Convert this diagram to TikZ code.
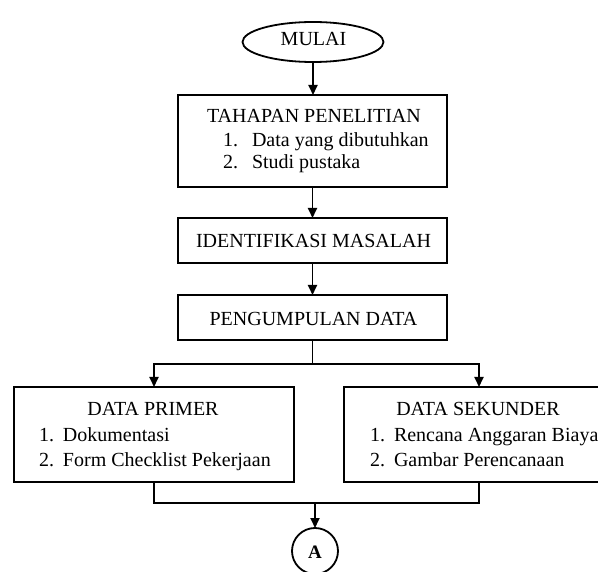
\documentclass[tikz,border=0pt]{standalone}
\usepackage{fontspec}
\setmainfont{Liberation Serif}
\usetikzlibrary{arrows.meta,shapes.geometric}
\begin{document}
\begin{tikzpicture}[x=1pt,y=-1pt,
  line width=1.8pt,
  every node/.style={inner sep=0pt, outer sep=0pt},
  box/.style={draw, rectangle, line width=1.8pt},
  txt/.style={font=\fontsize{20}{24}\selectfont, anchor=base},
  itm/.style={font=\fontsize{20}{24}\selectfont, anchor=base west},
  arr/.style={-{Triangle[length=10pt,width=9pt]}}]
\useasboundingbox (0,0) rectangle (598,572);
% shapes
\node[draw, ellipse, minimum width=141pt, minimum height=40pt] (mulai) at (313,42) {};
\node[box, minimum width=269pt, minimum height=92pt] (tahap) at (312.5,141) {};
\node[box, minimum width=269pt, minimum height=45pt] (ident) at (312.5,240.5) {};
\node[box, minimum width=269pt, minimum height=45pt] (peng) at (312.5,317.5) {};
\node[box, minimum width=280pt, minimum height=95pt] (primer) at (154,434.5) {};
\node[box, minimum width=270pt, minimum height=95pt] (sek) at (479,434.5) {};
\node[draw, circle, minimum size=46pt] (circA) at (315,551) {};
% texts
\node[txt] (tmulai) at (313.5,46) {MULAI};
\node[txt] (ttahap) at (314,123) {TAHAPAN PENELITIAN};
\node[itm] (tt1n) at (223,146.5) {1.};
\node[itm] (tt1) at (252,146.5) {Data yang dibutuhkan};
\node[itm] (tt2n) at (223,169) {2.};
\node[itm] (tt2) at (252,169) {Studi pustaka};
\node[txt] (tident) at (313.5,248) {IDENTIFIKASI MASALAH};
\node[txt] (tpeng) at (313.5,326) {PENGUMPULAN DATA};
\node[txt] (tprimer) at (153,416) {DATA PRIMER};
\node[itm] (tp1n) at (39,441.5) {1.};
\node[itm] (tp1) at (63,441.5) {Dokumentasi};
\node[itm] (tp2n) at (39,467) {2.};
\node[itm] (tp2) at (63,467) {Form Checklist Pekerjaan};
\node[txt] (tsek) at (478,416) {DATA SEKUNDER};
\node[itm] (ts1n) at (370,441.5) {1.};
\node[itm] (ts1) at (394,441.5) {Rencana Anggaran Biaya};
\node[itm] (ts2n) at (370,467) {2.};
\node[itm] (ts2) at (394,467) {Gambar Perencanaan};
\node[font=\fontsize{19}{22}\selectfont\bfseries, anchor=base] (tA) at (315,558.5) {A};
% connectors
\coordinate (split) at (312.5,364);
\coordinate (join) at (315,503);
\draw[arr] (mulai.south) -- (mulai.south |- tahap.north);
\draw[arr] (tahap.south) -- (ident.north);
\draw[arr] (ident.south) -- (peng.north);
\draw (peng.south) -- (split);
\draw[arr] (split) -| (primer.north);
\draw[arr] (split) -| (sek.north);
\draw (primer.south) |- (join);
\draw (sek.south) |- (join);
\draw[arr] (join) -- (circA.north);
\end{tikzpicture}
\end{document}
